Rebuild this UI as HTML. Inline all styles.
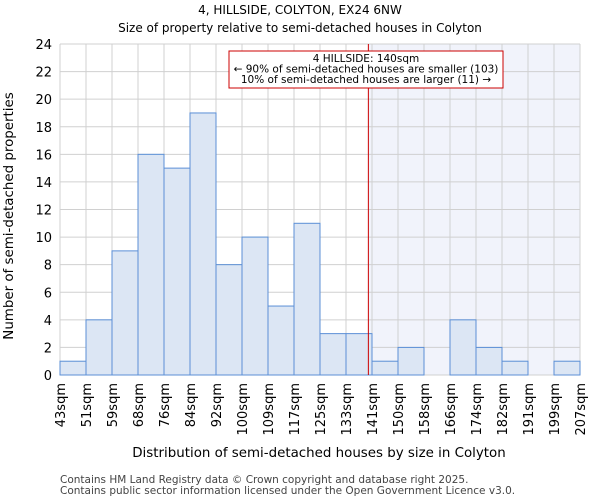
<!DOCTYPE html>
<html><head><meta charset="utf-8"><style>
body{margin:0;background:#fff;font-family:"DejaVu Sans","Liberation Sans",sans-serif}
</style></head><body>
<svg id="chart" width="600" height="500" xmlns="http://www.w3.org/2000/svg" font-family="DejaVu Sans, Liberation Sans, sans-serif">
<text x="300" y="14" text-anchor="middle" font-size="12">4, HILLSIDE, COLYTON, EX24 6NW</text>
<text x="300" y="32" text-anchor="middle" font-size="12">Size of property relative to semi-detached houses in Colyton</text>
<g id="plot"></g>
<text x="319" y="457" text-anchor="middle" font-size="13.4">Distribution of semi-detached houses by size in Colyton</text>
<text transform="translate(13,216) rotate(-90)" text-anchor="middle" font-size="13.4">Number of semi-detached properties</text>
<text x="60" y="483" font-size="10.5" fill="#444">Contains HM Land Registry data © Crown copyright and database right 2025.</text>
<text x="60" y="494" font-size="10.5" fill="#444">Contains public sector information licensed under the Open Government Licence v3.0.</text>
</svg>
<script>
const binLabels=["43sqm","51sqm","59sqm","68sqm","76sqm","84sqm","92sqm","100sqm","109sqm","117sqm","125sqm","133sqm","141sqm","150sqm","158sqm","166sqm","174sqm","182sqm","191sqm","199sqm","207sqm"];
const counts=[1,4,9,16,15,19,8,10,5,11,3,3,1,2,0,4,2,1,0,1];
const yTicks=[0,2,4,6,8,10,12,14,16,18,20,22,24];
const propertyBin=11.86;
const NS="http://www.w3.org/2000/svg";
const L=60,R=580,T=44,B=375,yMax=24;
const bw=(R-L)/counts.length;
const xs=i=>L+i*bw, ys=v=>B-(v/yMax)*(B-T);
const g=document.getElementById('plot');
function mk(tag,at){const e=document.createElementNS(NS,tag);for(const k in at)e.setAttribute(k,at[k]);g.appendChild(e);return e;}
const px=xs(propertyBin);
let e=mk('rect',{x:px,y:T,width:R-px,height:B-T,fill:'#f1f3fb'});


yTicks.forEach(t=>{const l=mk('line',{x1:L,x2:R,y1:ys(t),y2:ys(t),stroke:'#d0d0d0'});


const tx=mk('text',{x:L-8,y:ys(t)+5,'text-anchor':'end','font-size':13});tx.textContent=t;

});
binLabels.forEach((s,i)=>{const l=mk('line',{x1:xs(i),x2:xs(i),y1:T,y2:B,stroke:'#d0d0d0'});


const tx=mk('text',{transform:`translate(${xs(i)+5},${B+8}) rotate(-90)`,'text-anchor':'end','font-size':13});tx.textContent=s;

});
counts.forEach((c,i)=>{if(!c)return;const r=mk('rect',{x:xs(i),y:ys(c),width:bw,height:B-ys(c),fill:'#dce6f4',stroke:'#5b8fd6','stroke-width':1});

});
e=mk('line',{x1:px,x2:px,y1:T,y2:B,stroke:'#cc0000','stroke-width':1});


e=mk('rect',{x:229,y:51,width:274,height:37,fill:'#fff',stroke:'#cc0000'});


["4 HILLSIDE: 140sqm","← 90% of semi-detached houses are smaller (103)","10% of semi-detached houses are larger (11) →"].forEach((s,i)=>{const t=mk('text',{x:366,y:62+i*10.5,'text-anchor':'middle','font-size':10.5});t.textContent=s;

});
</script>
</body></html>
